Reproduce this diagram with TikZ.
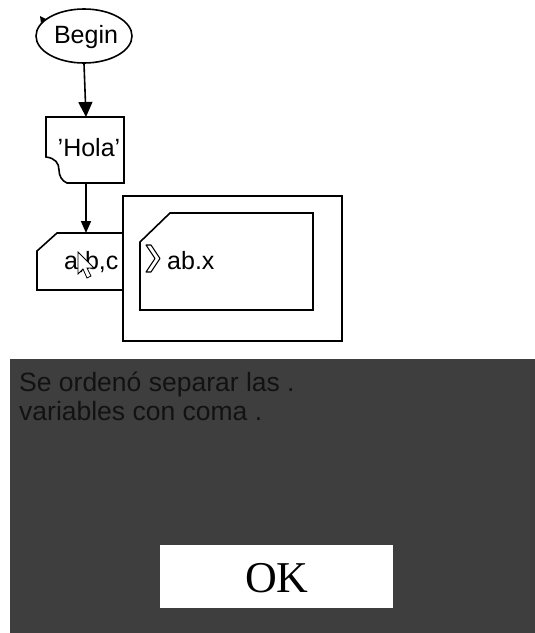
\documentclass[tikz,border=0pt]{standalone}
\usepackage{fontspec}
\setmainfont{Liberation Sans}
\newfontfamily\okfont{Liberation Serif}
\usetikzlibrary{arrows.meta,shapes.geometric}
\definecolor{panelgray}{HTML}{3E3E3E}
\definecolor{paneltext}{HTML}{121212}
\tikzset{
  outline/.style={draw=black,line width=1.6pt,line join=miter},
  flowarrow/.style={draw=black,line width=1.6pt,-{Triangle[length=15pt,width=14pt]}},
  smallarrow/.style={draw=black,line width=1.6pt,-{Triangle[length=12pt,width=10pt]}},
  lbl/.style={font=\fontsize{25}{27}\selectfont,inner sep=0pt},
  panellbl/.style={font=\fontsize{26.5}{30}\selectfont,text=paneltext,inner sep=0pt,anchor=west}
}
\begin{document}
\begin{tikzpicture}[x=1pt,y=-1pt]
\useasboundingbox (0,0) rectangle (535,633);
\fill[white] (0,0) rectangle (535,633);

% Begin ellipse
\node[ellipse,outline,minimum width=96pt,minimum height=54pt,inner sep=0pt] (begin) at (84,36) {};
\node[lbl] (begintxt) at (86,37) {Begin};
\fill[black] (40,16) -- (46,19) -- (41,23) -- cycle;

% 'Hola' output box with torn corner
\coordinate (holatop) at (86,117);
\draw[outline] (46,117) -- (124,117) -- (124,183) -- (67,183)
  .. controls (62,181) and (59,176) .. (59,170)
  .. controls (59,163) and (55,158) .. (46,157) -- cycle;
\node[lbl] (hola) at (89,148) {'Hola'};

% input box with cut corner (right part hidden by window)
\coordinate (inputtop) at (86,233);
\draw[outline] (123,233) -- (57,233) -- (37,251) -- (37,290) -- (123,290);
\node[lbl,anchor=west] (abc) at (64,262) {a,b,c};
% mouse cursor
\filldraw[fill=white,draw=black,line width=0.8pt] (78,252) -- (78,274) -- (83,269) -- (87,278) -- (91,276) -- (87,268) -- (94,268) -- cycle;

% connectors
\draw[flowarrow] (begin.south) -- (holatop);
\draw[smallarrow] (86,183) -- (inputtop);

% window
\draw[outline,fill=white] (123,196) rectangle (342,341);
\draw[outline] (170,213) -- (313,213) -- (313,310) -- (140,310) -- (140,242) -- cycle;
\draw[black,line width=1.1pt,line join=round] (146,245) -- (155,258.5) -- (146,272) -- (151,272) -- (160,258.5) -- (151,245) -- cycle;
\node[lbl,anchor=west] (abx) at (167,261) {ab.x};

% dark message panel
\fill[panelgray] (10,359) rectangle (535,633);
\node[panellbl] (msg1) at (19,384) {Se ordenó separar las .};
\node[panellbl] (msg2) at (19,411) {variables con coma .};

% OK button
\node[fill=white,minimum width=233pt,minimum height=63pt,inner sep=0pt] (ok) at (276.5,576.5) {};
\node[font=\okfont\fontsize{44}{48}\selectfont,inner sep=0pt] (oktxt) at (277,578) {OK};
\end{tikzpicture}
\end{document}
